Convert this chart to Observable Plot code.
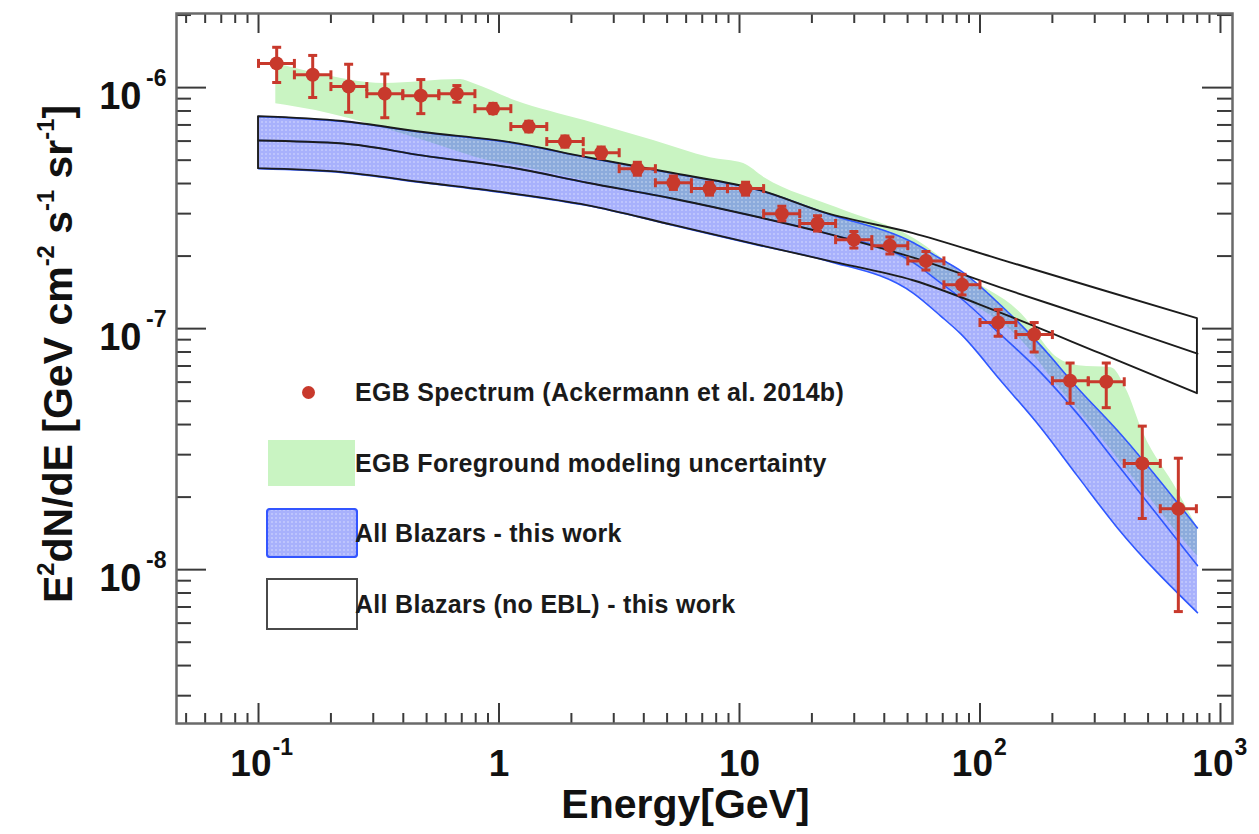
<!DOCTYPE html>
<html><head><meta charset="utf-8">
<script src="https://cdn.jsdelivr.net/npm/d3@7"></script>
<script src="https://cdn.jsdelivr.net/npm/@observablehq/plot@0.6"></script>
<style>
body{margin:0;background:#fff;font-family:"Liberation Sans",Arial,sans-serif;}
#wrap{position:relative;width:1259px;height:834px;overflow:hidden;}
.lg{position:absolute;font:bold 25px "Liberation Sans",Arial,sans-serif;color:#1a1a1a;white-space:nowrap;line-height:1;transform:translateY(-50%);letter-spacing:0.3px;}
#ylab{position:absolute;left:58px;top:354px;transform:translate(-50%,-50%) rotate(-90deg);white-space:nowrap;font:bold 41px "Liberation Sans",Arial,sans-serif;color:#111;line-height:1;}
#ylab sup{font-size:0.58em;vertical-align:0.75em;line-height:0;}
</style></head><body>
<svg width="0" height="0" style="position:absolute"><defs>
<pattern id="dots" width="4" height="4" patternUnits="userSpaceOnUse">
<rect width="4" height="4" fill="rgb(72,92,248)" fill-opacity="0.48"/>
<circle cx="2" cy="2" r="0.9" fill="#ffffff" fill-opacity="0.35"/>
</pattern></defs></svg>
<div id="wrap"></div>
<script>
// ---------- data ----------
const egbE   = [0.119,0.168,0.237,0.335,0.473,0.668,0.944,1.33,1.88,2.66,3.76,5.31,7.50,10.6,15.0,21.1,29.9,42.2,59.6,84.2,119,168,237,335,473,668];
const egbElo = [0.100,0.141,0.200,0.282,0.398,0.562,0.794,1.12,1.58,2.24,3.16,4.47,6.31,8.91,12.6,17.8,25.1,35.5,50.1,70.8,100,141,200,282,398,562];
const egbEhi = [0.141,0.200,0.282,0.398,0.562,0.794,1.12,1.58,2.24,3.16,4.47,6.31,8.91,12.6,17.8,25.1,35.5,50.1,70.8,100,141,200,282,398,562,794];
const egbFlux= [1.26e-6,1.13e-6,1.01e-6,9.44e-7,9.26e-7,9.44e-7,8.18e-7,6.89e-7,5.97e-7,5.37e-7,4.61e-7,4.03e-7,3.81e-7,3.81e-7,3.00e-7,2.73e-7,2.34e-7,2.21e-7,1.91e-7,1.52e-7,1.06e-7,9.45e-8,6.08e-8,6.02e-8,2.76e-8,1.79e-8];
const egbHi  = [1.47e-6,1.36e-6,1.25e-6,1.14e-6,1.08e-6,1.02e-6,8.6e-7,7.25e-7,6.30e-7,5.67e-7,4.90e-7,4.30e-7,4.05e-7,4.05e-7,3.22e-7,2.94e-7,2.53e-7,2.40e-7,2.09e-7,1.68e-7,1.20e-7,1.06e-7,7.2e-8,7.2e-8,3.94e-8,2.9e-8];
const egbLo  = [1.05e-6,9.1e-7,7.9e-7,7.5e-7,7.8e-7,8.7e-7,7.8e-7,6.55e-7,5.66e-7,5.08e-7,4.33e-7,3.78e-7,3.58e-7,3.58e-7,2.80e-7,2.54e-7,2.16e-7,2.04e-7,1.75e-7,1.38e-7,9.3e-8,8.0e-8,4.9e-8,4.7e-8,1.63e-8,6.7e-9];

const greenE  = [0.118,0.173,0.334,0.692,0.783,1.17,2.27,4.39,7.57,10.4,12.7,25.3,53.4,86.3,149,210,257,352,403,479,662,802];
const greenHi = [1.26e-6,1.15e-6,1.04e-6,1.08e-6,1.04e-6,8.83e-7,7.30e-7,6.03e-7,5.12e-7,4.84e-7,4.23e-7,3.18e-7,2.36e-7,1.66e-7,1.15e-7,7.58e-8,7.02e-8,6.89e-8,5.69e-8,3.67e-8,2.13e-8,1.49e-8];
const greenLo = [8.58e-7,8.03e-7,6.76e-7,5.38e-7,5.17e-7,4.75e-7,4.11e-7,3.53e-7,3.18e-7,3.00e-7,2.86e-7,2.41e-7,1.84e-7,1.33e-7,8.92e-8,5.80e-8,4.57e-8,3.12e-8,2.62e-8,2.13e-8,1.42e-8,1.14e-8];

const blueE   = [0.1,0.225,0.485,1.12,2.33,5.32,12.2,23.2,52.9,68.5,83.0,122,179,254,373,802];
const blueHi  = [7.58e-7,7.23e-7,6.51e-7,5.91e-7,5.12e-7,4.40e-7,3.74e-7,3.00e-7,2.27e-7,1.95e-7,1.74e-7,1.25e-7,8.50e-8,5.69e-8,3.78e-8,1.49e-8];
const blueMid = [6.03e-7,5.86e-7,5.22e-7,4.66e-7,4.03e-7,3.46e-7,2.89e-7,2.48e-7,1.88e-7,1.55e-7,1.34e-7,9.44e-8,6.57e-8,4.44e-8,2.73e-8,1.04e-8];
const blueLo  = [4.61e-7,4.44e-7,4.03e-7,3.63e-7,3.24e-7,2.68e-7,2.21e-7,1.91e-7,1.40e-7,1.13e-7,9.53e-8,6.08e-8,3.88e-8,2.45e-8,1.49e-8,6.63e-9];

const nebE   = [0.1,0.225,0.485,1.12,2.33,5.32,12.2,23.2,52.9,122,317,802];
const nebHi  = [7.58e-7,7.23e-7,6.51e-7,5.91e-7,5.12e-7,4.40e-7,3.74e-7,3.00e-7,2.48e-7,1.93e-7,1.45e-7,1.10e-7];
const nebMid = [6.03e-7,5.86e-7,5.22e-7,4.66e-7,4.03e-7,3.46e-7,2.89e-7,2.48e-7,1.97e-7,1.48e-7,1.08e-7,7.87e-8];
const nebLo  = [4.61e-7,4.44e-7,4.03e-7,3.63e-7,3.24e-7,2.68e-7,2.21e-7,1.91e-7,1.58e-7,1.16e-7,7.87e-8,5.37e-8];

const xMajor = [0.1,1,10,100,1000];
const xMinor = [0.05,0.06,0.07,0.08,0.09,0.2,0.3,0.4,0.5,0.6,0.7,0.8,0.9,2,3,4,5,6,7,8,9,20,30,40,50,60,70,80,90,200,300,400,500,600,700,800,900];
const xTickBase = ["10","1","10","10","10"];
const xTickExp  = ["-1","","","2","3"];
const yMajor = [1e-8,1e-7,1e-6];
const yMinor = [3e-9,4e-9,5e-9,6e-9,7e-9,8e-9,9e-9,2e-8,3e-8,4e-8,5e-8,6e-8,7e-8,8e-8,9e-8,2e-7,3e-7,4e-7,5e-7,6e-7,7e-7,8e-7,9e-7,2e-6];
const yTickBase = ["10","10","10"];
const yTickExp  = ["-8","-7","-6"];

const legendLabels = ["EGB Spectrum (Ackermann et al. 2014b)","EGB Foreground modeling uncertainty","All Blazars - this work","All Blazars (no EBL) - this work"];

// ---------- tables ----------
const egb = egbE.map((e,i)=>({e, elo:egbElo[i], ehi:egbEhi[i], v:egbFlux[i], hi:egbHi[i], lo:egbLo[i]}));
const green = greenE.map((e,i)=>({e, hi:greenHi[i], lo:greenLo[i]}));
const blue = blueE.map((e,i)=>({e, hi:blueHi[i], mid:blueMid[i], lo:blueLo[i]}));
const neb = nebE.map((e,i)=>({e, hi:nebHi[i], mid:nebMid[i], lo:nebLo[i]}));
const xLab = xMajor.map((v,i)=>({v, base:xTickBase[i], exp:xTickExp[i]}));
const yLab = yMajor.map((v,i)=>({v, base:yTickBase[i], exp:yTickExp[i]}));

const W=1259, H=834, mL=176, mR=27, mT=13, mB=111;
const iW=W-mL-mR, iH=H-mT-mB;

const capH = {draw(ctx,size){const w=Math.sqrt(size/Math.PI); ctx.moveTo(-w,0); ctx.lineTo(w,0);}};
const capV = {draw(ctx,size){const h=Math.sqrt(size/Math.PI); ctx.moveTo(0,-h); ctx.lineTo(0,h);}};

const red="#c8392c", tickC="#3a3a3a", blueLine="#2f58ff", black="#1c1c1c";
const font='"Liberation Sans",Arial,sans-serif';

const chart = Plot.plot({
  width:W, height:H, marginLeft:mL, marginRight:mR, marginTop:mT, marginBottom:mB,
  style:{fontFamily:font, background:"transparent", overflow:"visible"},
  x:{type:"log", domain:[0.0456,1122], axis:null},
  y:{type:"log", domain:[2.30e-9,2.03e-6], axis:null},
  marks:[
    Plot.areaY(green,{x:"e", y1:"lo", y2:"hi", fill:"#c9f4c2", curve:"monotone-x"}),
    Plot.areaY(blue,{x:"e", y1:"lo", y2:"hi", fill:"url(#dots)", curve:"monotone-x"}),
    Plot.line(blue,{x:"e", y:"hi", stroke:blueLine, strokeWidth:1.6, curve:"monotone-x"}),
    Plot.line(blue,{x:"e", y:"mid", stroke:blueLine, strokeWidth:1.6, curve:"monotone-x"}),
    Plot.line(blue,{x:"e", y:"lo", stroke:blueLine, strokeWidth:1.6, curve:"monotone-x"}),
    Plot.areaY(neb,{x:"e", y1:"lo", y2:"hi", fill:"none", stroke:black, strokeWidth:1.9, curve:"monotone-x"}),
    Plot.line(neb,{x:"e", y:"mid", stroke:black, strokeWidth:1.9, curve:"monotone-x"}),
    // EGB error bars
    Plot.ruleY(egb,{y:"v", x1:"elo", x2:"ehi", stroke:red, strokeWidth:3}),
    Plot.ruleX(egb,{x:"e", y1:"lo", y2:"hi", stroke:red, strokeWidth:3}),
    Plot.dot(egb,{x:"e", y:"hi", symbol:capH, r:4.5, stroke:red, strokeWidth:3, fill:"none"}),
    Plot.dot(egb,{x:"e", y:"lo", symbol:capH, r:4.5, stroke:red, strokeWidth:3, fill:"none"}),
    Plot.dot(egb,{x:"elo", y:"v", symbol:capV, r:4.5, stroke:red, strokeWidth:3, fill:"none"}),
    Plot.dot(egb,{x:"ehi", y:"v", symbol:capV, r:4.5, stroke:red, strokeWidth:3, fill:"none"}),
    Plot.dot(egb,{x:"e", y:"v", r:7, fill:red}),
    // ticks (inward, all four sides)
    Plot.ruleX(xMajor,{x:d=>d, insetTop:iH-20, stroke:tickC, strokeWidth:2}),
    Plot.ruleX(xMinor,{x:d=>d, insetTop:iH-10, stroke:tickC, strokeWidth:2}),
    Plot.ruleX(xMajor,{x:d=>d, insetBottom:iH-20, stroke:tickC, strokeWidth:2}),
    Plot.ruleX(xMinor,{x:d=>d, insetBottom:iH-10, stroke:tickC, strokeWidth:2}),
    Plot.ruleY(yMajor,{y:d=>d, insetRight:iW-30, stroke:tickC, strokeWidth:2}),
    Plot.ruleY(yMinor,{y:d=>d, insetRight:iW-15, stroke:tickC, strokeWidth:2}),
    Plot.ruleY(yMajor,{y:d=>d, insetLeft:iW-30, stroke:tickC, strokeWidth:2}),
    Plot.ruleY(yMinor,{y:d=>d, insetLeft:iW-15, stroke:tickC, strokeWidth:2}),
    Plot.frame({stroke:"#6a6a6a", strokeWidth:2.5}),
    // x tick labels
    Plot.text(xLab.filter(d=>d.exp),{x:"v", text:"base", frameAnchor:"bottom", dy:52, dx:13, textAnchor:"end", fontSize:37, fontWeight:"bold", fill:"#111"}),
    Plot.text(xLab.filter(d=>d.exp),{x:"v", text:"exp", frameAnchor:"bottom", dy:31, dx:14, textAnchor:"start", fontSize:23, fontWeight:"bold", fill:"#111"}),
    Plot.text(xLab.filter(d=>!d.exp),{x:"v", text:"base", frameAnchor:"bottom", dy:52, textAnchor:"middle", fontSize:37, fontWeight:"bold", fill:"#111"}),
    // y tick labels
    Plot.text(yLab,{y:"v", text:"base", frameAnchor:"left", dx:-35, dy:9, textAnchor:"end", fontSize:38, fontWeight:"bold", fill:"#111"}),
    Plot.text(yLab,{y:"v", text:"exp", frameAnchor:"left", dx:-10, dy:-9, textAnchor:"end", fontSize:23, fontWeight:"bold", fill:"#111"}),
    // x axis title
    Plot.text(["Energy[GeV]"],{text:d=>d, frameAnchor:"bottom", dy:94, dx:-19, fontSize:41, fontWeight:"bold", fill:"#111"})
  ]
});
const wrap=document.getElementById("wrap");
wrap.appendChild(chart);

// y axis title
const yl=document.createElement("div");
yl.id="ylab";
yl.innerHTML='E<sup>2</sup>dN/dE [GeV cm<sup>-2</sup> s<sup>-1</sup> sr<sup>-1</sup>]';
wrap.appendChild(yl);

// legend
function add(html, css){const d=document.createElement("div"); d.innerHTML=html; d.style.cssText="position:absolute;"+css; wrap.appendChild(d); return d;}
add('', `left:302px;top:386px;width:13px;height:13px;border-radius:50%;background:${red};`);
add('', 'left:268px;top:440px;width:87px;height:46px;background:#c9f4c2;');
add('<svg width="92" height="50"><rect x="1" y="1" width="90" height="48" rx="3" fill="url(#dots)" stroke="#3355ff" stroke-width="2.2"/></svg>', 'left:266px;top:508px;width:92px;height:50px;line-height:0;');
add('', 'left:266px;top:578px;width:88px;height:48px;border:2.2px solid #4a4a4a;background:#fff;');
const ly=[392,463,533,604];
legendLabels.forEach((t,i)=>{const d=document.createElement("div"); d.className="lg"; d.textContent=t; d.style.left="355px"; d.style.top=ly[i]+"px"; wrap.appendChild(d);});
</script>
</body></html>
